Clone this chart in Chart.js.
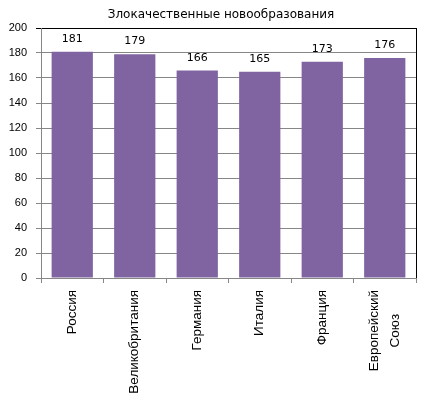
<!DOCTYPE html>
<html>
<head>
<meta charset="utf-8">
<script src="https://cdn.jsdelivr.net/npm/chart.js@4/dist/chart.umd.min.js"></script>
<style>
html,body{margin:0;padding:0;background:#fff;}
#wrap{width:430px;height:405px;position:relative;}
</style>
</head>
<body>
<div id="wrap"><canvas id="c"></canvas></div>
<script>
const titleText = "Злокачественные новообразования";
const categories = [["Россия"], ["Великобритания"], ["Германия"], ["Италия"], ["Франция"], ["Европейский", "Союз"]];
const values = [181, 179, 166, 165, 173, 176];
const yTicks = [0, 20, 40, 60, 80, 100, 120, 140, 160, 180, 200];

const GRAY = "#868686";

const valueLabels = {
  id: "valueLabels",
  afterDatasetsDraw(chart) {
    const ctx = chart.ctx;
    const meta = chart.getDatasetMeta(0);
    ctx.save();
    ctx.font = "11px 'DejaVu Sans'";
    ctx.fillStyle = "#000";
    ctx.textAlign = "center";
    ctx.textBaseline = "alphabetic";
    meta.data.forEach((bar, i) => {
      ctx.fillText(String(values[i]), bar.x, bar.y - 10);
    });
    ctx.restore();
  }
};

const frameAndLabels = {
  id: "frameAndLabels",
  afterDraw(chart) {
    const ctx = chart.ctx;
    const a = chart.chartArea;
    ctx.save();
    ctx.strokeStyle = "#000";
    ctx.lineWidth = 1;
    ctx.beginPath();
    ctx.moveTo(Math.round(a.right) + 0.5, a.top);
    ctx.lineTo(Math.round(a.right) + 0.5, a.bottom);
    ctx.stroke();
    // title
    ctx.font = "12px 'DejaVu Sans'";
    ctx.fillStyle = "#000";
    ctx.textAlign = "center";
    ctx.textBaseline = "middle";
    ctx.fillText(titleText, 221, 15);
    // category labels, rotated
    const xs = chart.scales.x;
    ctx.font = "13.5px 'Liberation Sans'";
    const yTop = a.bottom + 12;
    const L = 21;
    categories.forEach((lines, i) => {
      const x = xs.getPixelForTick(i);
      let W = 0;
      lines.forEach(t => { W = Math.max(W, ctx.measureText(t).width); });
      ctx.save();
      ctx.translate(x, yTop);
      ctx.rotate(-Math.PI / 2);
      ctx.textAlign = "center";
      ctx.textBaseline = "middle";
      lines.forEach((t, j) => {
        ctx.fillText(t, -W / 2, (j - (lines.length - 1) / 2) * L);
      });
      ctx.restore();
    });
    ctx.restore();
  }
};

new Chart(document.getElementById("c"), {
  type: "bar",
  data: {
    labels: categories.map(l => l.join(" ")),
    datasets: [{
      data: values,
      backgroundColor: "#8064A2",
      borderWidth: 0,
      inflateAmount: 0,
      categoryPercentage: 1.0,
      barPercentage: 0.66
    }]
  },
  options: {
    responsive: true,
    maintainAspectRatio: false,
    animation: false,
    layout: { padding: { left: 0, right: 14, top: 28, bottom: 122 } },
    plugins: {
      legend: { display: false },
      tooltip: { enabled: false },
      title: { display: false }
    },
    scales: {
      x: {
        offset: true,
        ticks: { display: false },
        grid: {
          display: true,
          offset: true,
          drawOnChartArea: false,
          drawTicks: true,
          tickLength: 5,
          color: GRAY
        },
        border: { display: true, color: GRAY }
      },
      y: {
        min: 0,
        max: 200,
        afterFit(s) { s.width = 41; },
        afterBuildTicks(s) { s.ticks = yTicks.map(v => ({ value: v })); },
        ticks: {
          stepSize: 20,
          color: "#000",
          padding: 9,
          font: { family: "'Liberation Sans'", size: 11 }
        },
        grid: {
          color: ctx => (ctx.tick && ctx.tick.value === 200 ? "#000" : GRAY),
          drawTicks: true,
          tickLength: 5
        },
        border: { display: true, color: GRAY }
      }
    }
  },
  plugins: [valueLabels, frameAndLabels]
});
</script>
</body>
</html>
